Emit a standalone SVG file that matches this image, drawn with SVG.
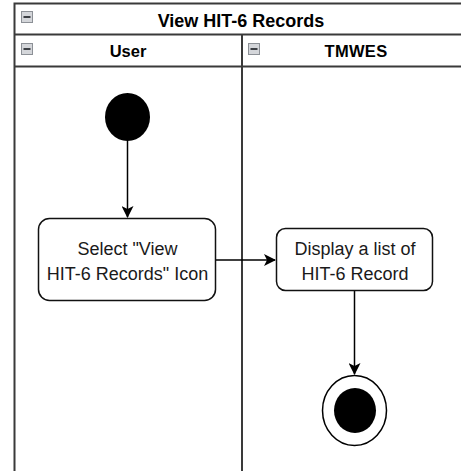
<svg xmlns="http://www.w3.org/2000/svg" width="461" height="471" viewBox="0 0 461 471">
  <style>
    .frame { fill: #ffffff; stroke: #3a3a3a; stroke-width: 2; }
    .sep { stroke: #3a3a3a; stroke-width: 2; fill: none; }
    .hdr { font-family: "Liberation Sans", Arial, sans-serif; font-weight: bold; fill: #000; text-anchor: middle; }
    .lbl { font-family: "Liberation Sans", Arial, sans-serif; font-size: 18px; fill: #1a1a1a; text-anchor: middle; }
    .act { fill: #ffffff; stroke: #111; stroke-width: 1.5; }
    .edge { stroke: #000; stroke-width: 1.5; fill: none; }
    .tog rect { fill: #d4d6da; stroke: #8c9096; stroke-width: 1; }
    .tog line { stroke: #3c3f44; stroke-width: 2; }
  </style>
  <defs>
    <marker id="arrow" viewBox="0 0 12 12" refX="11" refY="6" markerWidth="12" markerHeight="12" markerUnits="userSpaceOnUse" orient="auto">
      <path d="M0,0 L12,6 L0,12 L3,6 Z" fill="#000"/>
    </marker>
    <g id="toggle" class="tog">
      <rect x="0.5" y="0.5" width="11" height="11"/>
      <line x1="2.5" y1="6" x2="9.5" y2="6"/>
    </g>
  </defs>

  <!-- Pool and lanes -->
  <g id="pool">
    <rect class="frame" x="14.5" y="3.5" width="460" height="480"/>
    <line class="sep" x1="14.5" y1="34.5" x2="474" y2="34.5"/>
    <line class="sep" x1="14.5" y1="66.5" x2="474" y2="66.5"/>
    <line class="sep" x1="242" y1="34.5" x2="242" y2="480"/>
    <use href="#toggle" x="21" y="11"/>
    <text class="hdr" x="241" y="27" font-size="18">View HIT-6 Records</text>
  </g>
  <g id="lane-user">
    <use href="#toggle" x="21" y="43"/>
    <text class="hdr" x="128" y="57" font-size="16.5">User</text>
  </g>
  <g id="lane-tmwes">
    <use href="#toggle" x="248" y="43"/>
    <text class="hdr" x="356" y="57" font-size="16.5" letter-spacing="0.3">TMWES</text>
  </g>

  <!-- Connectors -->
  <g id="connectors">
    <line class="edge" x1="127.5" y1="141" x2="127.5" y2="217" marker-end="url(#arrow)"/>
    <line class="edge" x1="216" y1="260" x2="275" y2="260" marker-end="url(#arrow)"/>
    <line class="edge" x1="354.5" y1="291" x2="354.5" y2="374" marker-end="url(#arrow)"/>
  </g>

  <!-- Nodes -->
  <g id="start">
    <ellipse cx="127.5" cy="117" rx="22.5" ry="24" fill="#000"/>
  </g>
  <g id="select-icon">
    <rect class="act" x="38.5" y="218.5" width="177" height="82" rx="11"/>
    <text class="lbl" x="127.5" y="255">Select "View</text>
    <text class="lbl" x="127.5" y="280">HIT-6 Records" Icon</text>
  </g>
  <g id="display-list">
    <rect class="act" x="276.5" y="228.5" width="156" height="62" rx="9"/>
    <text class="lbl" x="355" y="255">Display a list of</text>
    <text class="lbl" x="355" y="280">HIT-6 Record</text>
  </g>
  <g id="end">
    <ellipse cx="354.5" cy="410.5" rx="32" ry="35" fill="#fff" stroke="#000" stroke-width="1.5"/>
    <ellipse cx="355" cy="410.5" rx="21" ry="22.5" fill="#000"/>
  </g>
</svg>
